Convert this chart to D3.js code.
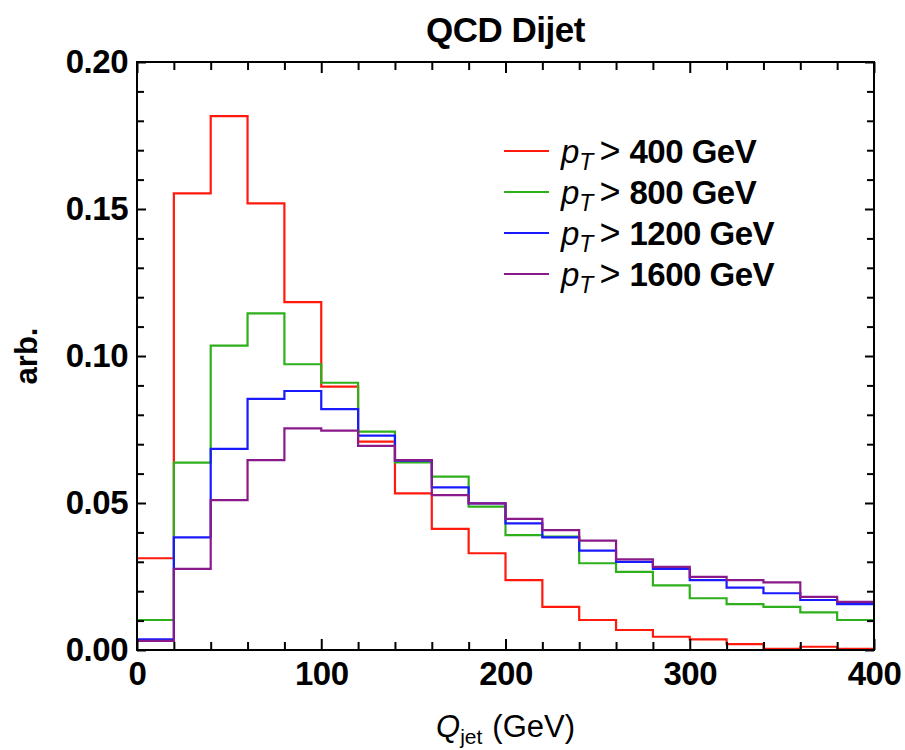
<!DOCTYPE html>
<html>
<head>
<meta charset="utf-8">
<script src="https://cdn.jsdelivr.net/npm/d3@7"></script>
<style>
  body { margin: 0; background: #fff; }
  svg { display: block; font-family: "Liberation Sans", Arial, Helvetica, sans-serif; }
</style>
</head>
<body>
<svg id="chart"></svg>
<script>
/**
 * Data: QCD dijet jet-mass histograms, 20 GeV bins.
 */
var binStarts = [0, 20, 40, 60, 80, 100, 120, 140, 160, 180, 200, 220, 240, 260, 280, 300, 320, 340, 360, 380];
var binEnd = 400;

var pt400 = [0.0312, 0.1553, 0.1816, 0.1519, 0.1183, 0.0896, 0.0709, 0.0533, 0.0412, 0.0329,
    0.0238, 0.0147, 0.0102, 0.0068, 0.0045, 0.0036, 0.0020, 0.0004, 0.0011, 0.0004];
var pt800 = [0.0102, 0.0637, 0.1035, 0.1145, 0.0972, 0.0909, 0.0743, 0.0638, 0.0590, 0.0488,
    0.0391, 0.0386, 0.0295, 0.0266, 0.0220, 0.0176, 0.0156, 0.0147, 0.0128, 0.0102];
var pt1200 = [0.0036, 0.0383, 0.0684, 0.0854, 0.0881, 0.0819, 0.0729, 0.0644, 0.0553, 0.0499,
    0.0431, 0.0383, 0.0338, 0.0300, 0.0276, 0.0238, 0.0212, 0.0193, 0.0170, 0.0156];
var pt1600 = [0.0031, 0.0276, 0.0510, 0.0646, 0.0754, 0.0746, 0.0694, 0.0646, 0.0527, 0.0499,
    0.0446, 0.0408, 0.0372, 0.0308, 0.0283, 0.0249, 0.0238, 0.0230, 0.0181, 0.0164];

var seriesCuts = ["400", "800", "1200", "1600"];
var seriesValues = [pt400, pt800, pt1200, pt1600];
var seriesColors = ["#ff1a0d", "#2eb01c", "#1a1aff", "#8a1a8a"];

var xMajor = [0, 100, 200, 300, 400];
var xMinor = [20, 40, 60, 80, 120, 140, 160, 180, 220, 240, 260, 280, 320, 340, 360, 380];
var yMajor = [0, 0.05, 0.10, 0.15, 0.20];
var yMinor = [0.01, 0.02, 0.03, 0.04, 0.06, 0.07, 0.08, 0.09, 0.11, 0.12, 0.13, 0.14, 0.16, 0.17, 0.18, 0.19];

var w = 905;
var h = 750;

var svg = d3.select("#chart").attr("width", w).attr("height", h),
    margin = { top: 62, right: 31, bottom: 100, left: 137 },
    width = w - margin.left - margin.right,
    height = h - margin.top - margin.bottom,
    g = svg.append("g")
        .attr("transform", "translate(" + margin.left + "," + margin.top + ")");

var x = d3.scaleLinear().domain([0, 400]).range([0, width]);
var y = d3.scaleLinear().domain([0, 0.20]).range([height, 0]);

// Histogram outlines, drawn as steps.
var line = d3.line()
    .curve(d3.curveStepAfter)
    .x(function(d) { return x(d[0]); })
    .y(function(d) { return y(d[1]); });

seriesValues.forEach(function(vals, i) {
    var pts = binStarts.map(function(b, j) { return [b, vals[j]]; });
    pts.push([binEnd, vals[vals.length - 1]]);
    g.append("path")
        .datum(pts)
        .attr("fill", "none")
        .attr("stroke", seriesColors[i])
        .attr("stroke-width", 2.2)
        .attr("d", line);
});

// Ticks point inwards on all four sides.
var styleAxis = function(sel) {
    sel.select(".domain").remove();
    sel.selectAll(".tick line").attr("stroke", "#000").attr("stroke-width", 2);
    sel.selectAll(".tick text")
        .attr("fill", "#000")
        .style("font-size", "33px")
        .style("font-weight", "bold")
        .style("letter-spacing", "-0.5px");
};

g.append("g").attr("transform", "translate(0," + height + ")")
    .call(d3.axisBottom(x).tickValues(xMajor).tickSize(-11).tickPadding(12).tickFormat(d3.format("d")))
    .call(styleAxis);
g.append("g").attr("transform", "translate(0," + height + ")")
    .call(d3.axisBottom(x).tickValues(xMinor).tickSize(-8).tickFormat(""))
    .call(styleAxis);
g.append("g")
    .call(d3.axisTop(x).tickValues(xMajor).tickSize(-11).tickFormat(""))
    .call(styleAxis);
g.append("g")
    .call(d3.axisTop(x).tickValues(xMinor).tickSize(-8).tickFormat(""))
    .call(styleAxis);

g.append("g")
    .call(d3.axisLeft(y).tickValues(yMajor).tickSize(-9).tickPadding(9).tickFormat(d3.format(".2f")))
    .call(styleAxis);
g.append("g")
    .call(d3.axisLeft(y).tickValues(yMinor).tickSize(-7).tickFormat(""))
    .call(styleAxis);
g.append("g").attr("transform", "translate(" + width + ",0)")
    .call(d3.axisRight(y).tickValues(yMajor).tickSize(-9).tickFormat(""))
    .call(styleAxis);
g.append("g").attr("transform", "translate(" + width + ",0)")
    .call(d3.axisRight(y).tickValues(yMinor).tickSize(-7).tickFormat(""))
    .call(styleAxis);

// Frame.
g.append("rect")
    .attr("width", width)
    .attr("height", height)
    .attr("fill", "none")
    .attr("stroke", "#000")
    .attr("stroke-width", 2);

// Title.
svg.append("text")
    .attr("x", margin.left + width / 2)
    .attr("y", 42)
    .attr("text-anchor", "middle")
    .style("font-size", "35px")
    .style("font-weight", "bold")
    .style("letter-spacing", "-0.5px")
    .text("QCD Dijet");

// Axis titles.
var xt = svg.append("text")
    .attr("x", margin.left + width / 2)
    .attr("y", 737)
    .attr("text-anchor", "middle")
    .style("font-size", "31px");
xt.append("tspan").style("font-style", "italic").text("Q");
xt.append("tspan").attr("dy", 7).style("font-size", "21px").text("jet");
xt.append("tspan").attr("dy", -7).attr("dx", 10).text("(GeV)");

svg.append("text")
    .attr("transform", "translate(37," + (margin.top + height / 2) + ") rotate(-90)")
    .attr("text-anchor", "middle")
    .style("font-size", "31px")
    .style("font-weight", "bold")
    .text("arb.");

// Legend.
var legend = svg.append("g");
seriesCuts.forEach(function(cut, i) {
    var ly = 151 + i * 41;
    legend.append("line")
        .attr("x1", 504).attr("x2", 549)
        .attr("y1", ly).attr("y2", ly)
        .attr("stroke", seriesColors[i])
        .attr("stroke-width", 2.2);
    var t = legend.append("text")
        .attr("x", 561)
        .attr("y", ly + 12)
        .style("font-size", "33px");
    t.append("tspan").style("font-style", "italic").text("p");
    t.append("tspan").attr("dy", 7).style("font-style", "italic").style("font-size", "23px").text("T");
    t.append("tspan").attr("dy", -7).attr("dx", 6).style("font-size", "36px").text(">");
    t.append("tspan").attr("dx", 9).style("font-weight", "bold").style("letter-spacing", "-0.5px")
        .text(cut + " GeV");
});
</script>
</body>
</html>
